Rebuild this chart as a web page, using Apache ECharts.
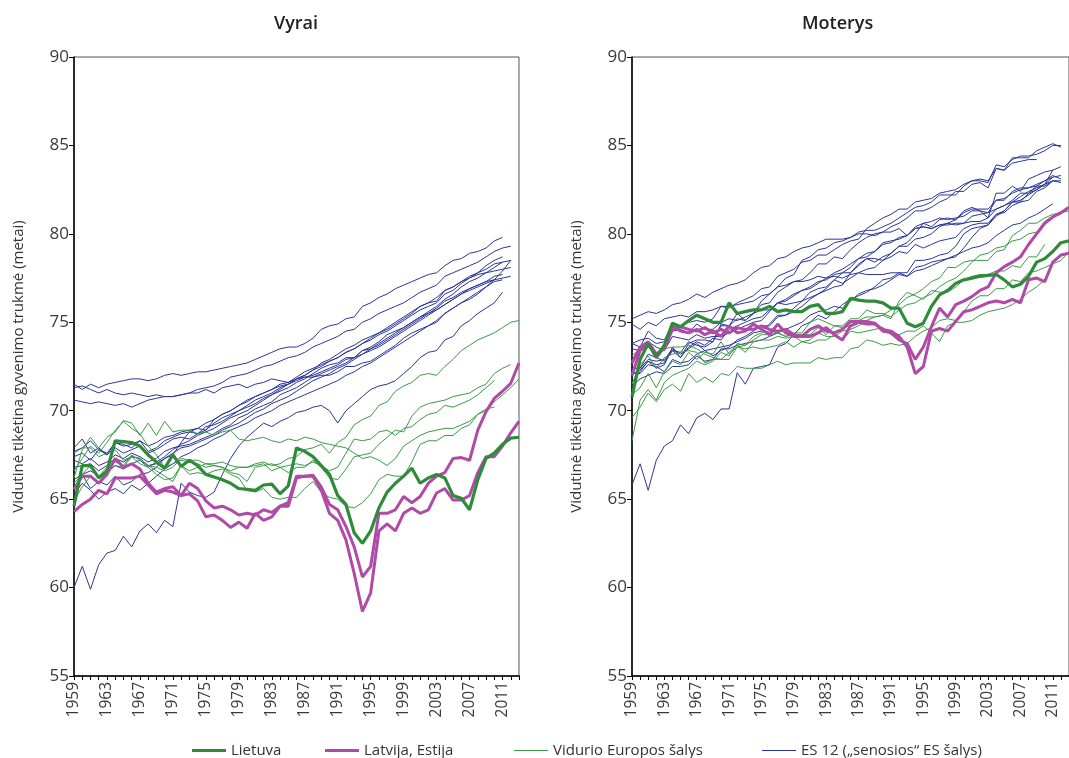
<!DOCTYPE html>
<html>
<head>
<meta charset="utf-8">
<script src="https://cdn.jsdelivr.net/npm/echarts@6/dist/echarts.min.js"></script>
<style>
  html, body { margin: 0; padding: 0; background: #fff; }
  #main { width: 1069px; height: 758px; }
</style>
</head>
<body>
<div id="main"></div>
<script>
// years on the x axis
var years = [];
for (var y = 1959; y <= 2013; y++) years.push(String(y));

// ---- Vyrai (men) ----
var ltMen = [64.6,66.9,66.9,66.2,66.6,68.3,68.25,68.2,68.0,67.5,67.1, 66.75,67.5,66.85,67.2,66.9,66.4,66.25,66.1,65.9,65.6, 65.55,65.5,65.8,65.85,65.3,65.75,67.9,67.7,67.4,66.9, 66.4,65.2,64.7,63.1,62.5,63.2,64.5,65.4,65.9,66.3, 66.75,65.9,66.2,66.4,66.2,65.2,65.05,64.4,66.1,67.3,67.6,68.1,68.45,68.5];
var lvMen = [65.55,66.3,66.3,65.9,66.4,67.3,66.8,67.0,66.7,65.9,65.4, 65.6,65.7,65.2,65.9,65.6,64.9,64.5,64.6,64.4,64.1, 64.2,64.1,64.4,64.25,64.6,64.6,66.2,66.3,66.3,65.5, 64.2,63.8,62.7,60.8,58.65,59.7,63.2,63.6,63.2,64.2, 64.5,64.2,64.4,65.35,65.6,64.95,64.95,65.2,66.5,67.4,67.4,68.0,68.75,69.4];
var eeMen = [64.3,64.7,65.0,65.5,65.3,66.2,66.2,66.2,66.3,65.8,65.3, 65.5,65.4,65.2,65.3,64.9,64.0,64.1,63.8,63.4,63.7, 63.35,64.2,63.8,64.0,64.6,64.8,66.3,66.3,66.35,65.7, 64.7,64.4,63.45,62.3,60.6,61.2,64.2,64.2,64.4,65.15, 64.8,65.15,65.9,66.3,66.5,67.3,67.35,67.2,68.9,69.95,70.7,71.1,71.55,72.7];

var ceMen = [
  [67.6,67.9,67.9,67.4,67.6,67.8,67.2,67.4,67.0,66.8,66.4, 66.1,66.2,66.9,66.6,66.8,67.0,67.0,67.1,66.9,66.8, 66.8,67.0,67.1,66.9,67.0,67.3,67.4,67.8,67.9,68.1, 67.6,68.2,68.5,69.2,69.5,69.7,70.3,70.5,71.1,71.4, 71.6,72.0,72.1,72.0,72.5,72.9,73.4,73.7,74.0,74.2,74.4,74.7,75.0,75.1],
  [66.6,67.3,68.0,67.6,68.2,68.9,69.4,69.0,68.7,68.0,67.5, 66.8,67.0,67.2,67.1,67.0,66.8,66.9,66.8,66.6,66.8, 66.8,66.9,67.0,66.6,66.8,66.9,67.0,66.9,67.1,66.9, 66.6,66.8,67.6,68.4,68.3,68.4,68.8,68.9,68.6,69.0, 69.1,69.5,69.8,69.9,70.3,70.2,70.4,70.6,70.9,71.3,71.7],
  [65.9,66.4,66.9,66.3,66.8,67.1,66.9,67.5,67.2,66.9,66.6, 66.3,66.0,66.9,66.4,66.5,66.4,66.6,66.7,66.4,66.2, 65.5,65.4,65.6,65.1,65.0,65.1,65.1,65.6,66.0,65.4, 65.1,65.0,64.6,64.5,64.8,65.3,66.1,66.4,66.3,66.3, 67.1,68.1,68.3,68.3,68.6,68.6,69.0,69.2,69.8,70.0,70.5,70.9,71.3,71.8],
  [64.9,65.7,66.3,65.9,66.6,66.9,66.8,67.4,67.3,66.9,66.8, 66.6,66.8,67.3,67.2,67.2,67.0,66.9,66.8,66.5,66.4, 66.0,66.8,66.9,67.0,66.8,66.5,66.8,66.8,67.2,66.8, 66.2,66.1,66.7,67.4,67.5,67.6,68.1,68.5,68.9,68.8, 69.7,70.2,70.4,70.5,70.6,70.8,70.9,71.0,71.3,71.5,72.1,72.4,72.6],
  [66.2,67.8,68.5,67.9,68.5,68.8,69.45,69.3,68.6,69.3,68.6, 69.4,68.8,68.9,68.9,68.7,68.8,68.6,68.8,68.9,68.4, 68.3,68.4,68.5,68.3,68.2,68.4,68.3,68.5,68.4,68.2, 68.1,68.0,67.9,67.6,67.3,67.4,67.2,66.9,67.3,68.0, 68.3,68.6,68.8,68.9,69.0,69.0,69.2,69.4,69.8,70.1,70.2]
];

var euMen = [
  [71.5,71.2,71.5,71.3,71.5,71.6,71.7,71.8,71.8,71.7,71.8, 72.0,72.1,72.0,72.1,72.2,72.2,72.3,72.4,72.5,72.6, 72.7,72.9,73.1,73.3,73.5,73.6,73.6,73.8,74.1,74.6, 74.8,74.9,75.2,75.3,75.9,76.1,76.4,76.6,76.9,77.1, 77.3,77.5,77.7,77.8,78.2,78.5,78.6,78.9,79.0,79.2,79.6,79.8],
  [71.3,71.4,71.2,71.0,71.2,71.0,70.9,71.0,70.9,70.8,70.9, 70.8,70.8,70.9,71.0,71.2,71.3,71.4,71.6,71.9,72.0, 72.1,72.3,72.5,72.6,72.8,73.0,73.1,73.3,73.6,73.8, 74.0,74.2,74.5,74.6,75.0,75.2,75.5,75.7,75.9,76.1, 76.4,76.7,76.9,77.1,77.6,77.8,78.0,78.2,78.4,78.7,79.0,79.2,79.3],
  [70.6,70.5,70.4,70.5,70.4,70.3,70.4,70.2,70.4,70.6,70.7, 70.8,70.8,70.9,71.0,71.0,71.2,71.0,71.3,71.4,71.5, 71.3,71.5,71.6,71.8,71.7,71.6,71.8,71.9,71.9,72.0, 72.0,72.2,72.5,72.5,72.7,72.8,73.1,73.4,73.7,74.1, 74.4,74.6,74.8,75.0,75.5,75.8,76.1,76.3,76.6,77.0,77.4,77.9,78.5],
  [67.9,68.4,67.6,67.9,67.5,68.2,68.0,68.1,68.3,68.0,68.2, 68.5,68.6,68.8,68.9,69.0,69.3,69.5,69.8,70.0,70.3, 70.5,70.8,71.0,71.2,71.5,71.6,71.9,72.2,72.4,72.6, 72.8,73.0,73.3,73.5,73.8,74.0,74.3,74.5,74.8,75.1, 75.4,75.7,75.9,76.1,76.6,76.8,77.2,77.5,77.8,78.2,78.5,78.7],
  [67.7,67.9,68.3,67.8,67.6,68.2,68.1,67.9,68.3,67.7,67.9, 68.3,68.5,68.7,68.8,68.7,69.1,69.2,69.4,69.7,70.0, 70.2,70.4,70.7,70.9,71.1,71.3,71.6,71.8,72.1,72.4, 72.6,72.7,73.0,73.0,73.4,73.5,73.8,74.1,74.4,74.7, 75.0,75.3,75.5,75.7,76.0,76.3,76.6,76.8,77.0,77.2,77.4,77.5,77.6],
  [67.4,67.6,67.2,67.8,67.5,67.9,67.6,67.8,68.0,67.6,67.8, 68.1,68.4,68.5,68.4,68.7,68.9,69.3,69.6,69.8,70.0, 70.3,70.6,70.8,71.0,71.3,71.5,71.8,72.0,72.3,72.7, 72.9,73.2,73.5,73.7,74.0,74.2,74.4,74.6,74.9,75.2, 75.5,75.9,76.1,76.2,76.8,77.0,77.3,77.6,77.8,78.0,78.3,78.4],
  [67.2,67.0,67.3,66.9,67.1,67.5,67.3,67.6,67.4,67.1,67.3, 67.7,67.9,68.0,68.1,68.3,68.5,68.7,69.0,69.2,69.6, 69.8,70.1,70.3,70.5,70.9,71.1,71.3,71.6,71.9,72.1, 72.3,72.5,72.7,73.0,73.2,73.5,73.7,74.0,74.3,74.6, 74.9,75.2,75.5,75.8,76.2,76.4,76.7,76.9,77.1,77.3,77.6,77.7],
  [66.8,66.9,67.0,66.6,66.9,67.3,67.1,67.4,67.3,66.9,67.0, 67.3,67.6,67.9,68.0,68.2,68.4,68.6,68.9,69.1,69.3, 69.6,69.9,70.1,70.4,70.6,70.8,71.1,71.4,71.7,71.9, 72.1,72.4,72.6,72.9,73.2,73.4,73.6,73.9,74.2,74.5, 74.8,75.1,75.4,75.7,76.0,76.3,76.6,76.9,77.1,77.3,77.4],
  [66.1,66.4,66.6,66.3,66.5,66.9,66.7,67.0,67.2,66.8,67.1, 67.4,67.8,68.1,68.3,68.6,68.8,69.0,69.3,69.6,69.8, 70.0,70.3,70.6,70.9,71.2,71.5,71.8,72.0,72.3,72.5, 72.8,73.0,73.3,73.5,73.8,74.1,74.4,74.7,75.0,75.3, 75.6,75.9,76.1,76.4,76.8,77.0,77.3,77.5,77.7,77.8,77.9,78.0,78.1],
  [65.5,66.4,65.6,66.0,65.8,66.3,65.8,66.0,66.4,66.5,66.8, 67.3,67.5,68.2,68.8,69.0,68.9,69.5,69.8,70.0,70.3, 70.6,70.8,71.0,71.2,71.4,71.5,71.7,71.9,72.0,72.2, 72.4,72.6,72.9,73.0,73.4,73.6,73.9,74.3,74.5,74.7, 75.0,75.3,75.6,75.9,76.3,76.6,77.0,77.3,77.5,77.8,78.1,78.4,78.5],
  [65.3,65.9,65.5,65.0,65.4,65.6,65.3,65.8,65.5,65.9,66.3, 66.7,67.0,67.4,67.6,67.9,68.1,68.4,68.6,68.9,69.1, 69.3,69.6,69.8,70.0,70.3,70.5,70.7,70.9,71.1,71.3, 71.5,71.7,72.0,72.2,72.5,72.7,73.0,73.3,73.6,73.9, 74.2,74.5,74.8,75.1,75.5,75.8,76.1,76.4,76.7,77.0,77.3,77.4],
  [60.0,61.2,59.9,61.3,61.95,62.1,62.9,62.3,63.2,63.6,63.1, 63.8,63.45,65.9,65.4,65.2,65.1,65.4,66.4,67.3,68.0, 68.5,68.9,69.3,69.1,69.4,69.6,69.9,70.0,70.2,70.3, 70.0,69.3,70.0,70.4,70.8,71.2,71.4,71.5,71.7,72.1, 72.5,73.0,73.3,73.4,74.0,74.2,74.8,75.1,75.5,75.8,76.1,76.7]
];

// ---- Moterys (women) ----
var ltWomen = [70.8,72.9,73.8,73.05,73.7,74.95,74.75,75.1,75.4,75.2,75.0, 75.0,76.1,75.5,75.6,75.7,75.7,75.9,75.6,75.7,75.6, 75.6,75.9,76.0,75.5,75.5,75.6,76.35,76.25,76.2,76.2, 76.1,75.8,75.8,74.95,74.75,74.95,75.9,76.55,76.8,77.2, 77.4,77.5,77.6,77.65,77.7,77.4,77.0,77.15,77.6,78.4,78.6,79.0,79.5,79.6];
var lvWomen = [72.0,73.4,73.8,73.0,73.6,74.8,74.5,74.4,74.6,74.3,74.5, 74.2,74.8,74.4,74.5,74.9,74.6,74.3,74.9,74.4,74.2, 74.2,74.2,74.4,74.7,74.3,74.0,74.8,75.0,74.9,74.9, 74.6,74.5,74.2,73.6,72.1,72.5,74.5,74.65,74.5,75.05, 75.6,75.7,75.9,76.1,76.2,76.1,76.3,76.1,77.4,77.5,77.3,78.4,78.8,78.9];
var eeWomen = [72.7,73.6,73.9,73.2,73.5,74.6,74.75,74.6,74.5,74.7,74.4, 74.6,74.4,74.7,74.6,74.6,74.8,74.6,74.5,74.6,74.3, 74.2,74.6,74.8,74.5,74.4,74.6,75.05,75.05,75.05,74.95, 74.5,74.4,74.0,73.8,72.9,73.6,74.75,75.8,75.3,76.0, 76.2,76.45,76.8,77.0,77.8,78.15,78.4,78.7,79.4,80.0,80.6,80.95,81.2,81.5];

var ceWomen = [
  [73.1,73.5,73.6,73.2,73.5,73.6,73.6,73.7,73.5,73.2,73.0, 72.9,73.3,73.7,73.3,73.9,74.0,74.0,74.2,74.1,74.2, 73.9,74.0,74.4,74.2,74.2,74.5,74.6,74.8,75.1,75.3, 75.4,75.7,76.0,76.4,76.6,76.9,77.3,77.5,78.1,78.1, 78.4,78.5,78.5,78.5,79.0,79.1,79.9,80.2,80.6,80.6,80.9,81.1,81.2,81.3],
  [71.5,72.6,73.1,72.4,73.0,73.2,73.3,73.4,73.3,72.7,72.9, 72.9,72.9,73.6,73.7,74.0,74.3,74.3,74.4,74.2,74.3, 74.3,74.3,74.7,74.3,74.8,74.7,74.8,75.1,75.3,75.3, 75.4,75.2,76.2,76.7,76.5,76.3,76.8,76.7,76.7,77.0, 77.4,77.6,77.7,77.7,77.9,77.9,78.2,78.1,78.7,78.7,79.4],
  [69.6,70.2,71.0,70.5,71.2,71.5,71.1,72.1,71.6,71.9,71.6, 72.1,72.0,72.5,72.4,72.4,72.4,72.6,72.8,72.6,72.7, 72.7,72.7,73.0,72.9,73.0,73.0,73.5,73.6,74.0,73.9, 73.7,73.8,73.7,73.8,74.2,74.5,74.7,75.1,75.2,75.1, 75.6,76.2,76.5,76.5,76.9,76.9,77.4,77.3,77.8,77.9,78.1,78.3,78.5,79.0],
  [68.3,70.6,71.2,70.6,71.6,72.0,72.2,72.4,72.8,72.6,72.8, 73.3,73.1,73.8,73.7,74.2,74.4,74.5,74.4,74.2,74.4, 74.4,75.0,75.2,75.0,74.8,74.8,75.2,75.2,75.7,75.5, 75.5,75.3,75.7,76.0,76.1,76.4,76.6,77.0,77.3,77.5, 77.9,78.4,78.8,78.9,79.2,79.3,79.6,79.7,80.0,80.1,80.7,81.0,81.1],
  [70.9,71.3,72.1,71.3,72.2,72.8,72.6,73.3,72.9,73.3,73.2, 73.9,73.2,73.6,73.5,73.6,73.5,73.6,73.7,73.9,73.6, 73.9,73.8,74.0,74.0,74.3,74.0,74.5,74.4,74.5,74.6, 74.7,74.3,74.3,74.5,74.5,74.8,74.4,73.9,74.8,75.0, 75.0,75.1,75.4,75.6,75.7,75.8,76.0,76.3,76.7,77.0,77.4]
];

var euWomen = [
  [73.8,73.6,74.5,74.1,74.0,74.9,74.8,75.0,75.1,75.0,75.2, 75.9,75.8,76.1,76.3,76.5,76.9,77.0,77.6,77.8,78.0, 78.4,78.5,78.8,78.8,79.1,79.4,79.6,79.7,80.3,80.6, 80.9,81.1,81.4,81.4,81.8,81.9,82.0,82.3,82.4,82.5, 82.8,83.0,83.0,82.9,83.9,83.8,84.2,84.4,84.4,84.5,84.7,85.0,85.0],
  [71.6,72.2,72.8,72.4,72.6,73.6,73.0,73.8,74.0,74.0,73.9, 74.8,74.8,75.5,75.1,75.5,76.2,76.6,77.0,77.5,77.7, 78.5,78.7,79.1,79.2,79.5,79.6,79.8,80.1,80.2,80.2, 80.4,80.6,80.9,81.2,81.5,81.6,81.8,82.2,82.2,82.2, 82.7,83.0,83.1,83.0,83.7,83.6,84.3,84.3,84.3,84.7,84.9,85.1,84.9],
  [72.0,72.3,72.8,72.6,72.7,73.4,73.3,73.9,73.7,73.6,73.9, 74.9,74.8,75.2,75.1,75.5,76.0,76.1,76.7,77.0,77.3, 77.4,77.8,78.3,78.3,78.7,78.6,79.1,79.5,79.8,80.0, 80.1,80.4,80.6,80.9,81.3,81.3,81.5,81.8,82.0,82.4, 82.4,82.8,82.9,82.6,83.7,83.6,84.0,84.1,84.2,84.2],
  [73.8,74.0,74.1,73.8,73.9,74.5,74.6,74.4,74.9,74.6,74.6, 75.0,75.2,75.1,75.3,75.5,75.7,75.7,76.1,76.0,76.1, 76.2,76.7,76.9,77.0,77.4,77.2,77.5,77.8,78.0,78.1, 78.5,78.7,79.0,78.9,79.4,79.2,79.4,79.6,79.7,79.8, 80.3,80.5,80.6,80.6,81.1,81.2,81.6,81.8,81.9,82.4,82.6,83.0,82.9],
  [73.5,73.4,73.9,73.6,73.4,74.2,74.1,74.0,74.3,74.1,74.2, 74.2,74.4,74.6,74.8,75.0,75.1,75.6,76.1,76.2,76.5, 76.8,77.0,77.3,77.4,77.7,77.8,78.1,78.6,78.9,79.0, 79.5,79.6,79.7,79.9,80.4,80.6,80.7,80.9,80.8,80.9, 81.0,81.3,81.3,81.2,81.9,81.9,82.4,82.6,82.6,82.8,83.0,83.3,83.1],
  [72.4,72.4,72.9,72.8,72.9,73.5,73.2,73.5,73.8,73.4,73.5, 73.6,73.7,73.9,74.1,74.4,74.5,74.9,75.4,75.4,75.8, 76.2,76.4,76.6,76.9,77.4,77.8,77.8,78.3,78.6,78.6, 78.5,78.9,79.3,79.3,79.7,79.8,80.0,80.4,80.6,80.8, 81.2,81.4,81.4,81.4,81.9,82.0,82.3,82.5,82.6,82.7,83.0,83.2,83.3],
  [72.2,72.1,72.6,72.5,72.2,72.9,72.7,72.8,73.2,73.4,73.1, 73.4,73.6,74.0,74.2,74.5,74.8,74.8,75.3,75.4,75.6, 75.9,76.3,76.6,76.8,77.0,77.1,77.8,78.2,78.6,78.4, 78.7,78.9,79.3,79.5,80.0,80.6,80.4,80.8,80.9,80.8, 81.3,81.5,81.3,80.9,82.3,82.3,82.7,82.4,83.1,83.3,83.5,83.6,83.8],
  [72.4,72.4,73.2,73.0,72.8,73.4,73.0,73.6,73.9,73.7,74.1, 74.0,74.6,74.8,75.0,75.2,75.3,75.7,76.1,76.3,76.6, 76.8,76.9,77.2,77.5,77.8,78.0,78.3,78.6,78.7,79.0, 79.4,79.5,79.8,79.9,80.3,80.4,80.3,80.5,80.5,80.6, 80.6,81.0,81.1,81.2,81.4,81.6,81.8,81.8,82.3,82.5,82.8,83.6],
  [71.4,71.8,72.0,72.2,72.1,72.5,72.5,72.6,73.1,72.8,72.9, 73.5,73.5,73.7,73.8,73.9,74.0,74.2,74.4,74.6,74.8, 75.0,75.4,75.6,75.7,75.9,75.8,76.2,76.6,76.8,76.9, 77.1,77.4,77.7,77.6,78.1,78.2,78.4,78.5,78.6,78.7, 79.2,79.8,80.3,80.5,81.0,81.3,81.8,82.1,82.4,82.6,82.8,83.0],
  [74.9,74.6,75.0,74.8,75.2,75.3,75.4,75.3,75.6,75.6,75.7, 75.9,75.9,76.0,76.1,76.2,76.5,76.6,77.0,77.1,77.3, 77.3,77.4,77.6,77.5,77.6,77.5,77.7,77.8,77.7,77.7, 77.7,77.8,77.8,77.6,77.9,78.0,78.2,78.4,78.6,78.8, 79.0,79.2,79.3,79.5,79.9,80.2,80.5,80.6,80.9,81.1,81.4,81.7],
  [75.2,75.4,75.6,75.5,75.7,76.0,76.1,76.3,76.6,76.4,76.7, 76.9,77.1,77.2,77.4,77.8,78.1,78.2,78.6,78.7,79.0, 79.2,79.3,79.5,79.7,79.7,79.7,79.8,80.0,80.0,79.9, 80.1,80.1,80.3,79.9,80.3,80.4,80.3,80.5,80.6,80.5, 80.6,80.7,80.7,80.9,81.4,81.6,81.9,82.3,82.3,82.7,82.7,83.0,83.0],
  [65.8,67.0,65.5,67.2,68.0,68.3,69.2,68.7,69.6,69.85,69.5, 70.1,70.1,72.15,71.5,72.4,72.5,72.6,73.6,73.8,74.3, 74.8,75.0,75.4,75.2,75.6,76.0,76.3,76.5,76.7,77.0, 77.4,77.5,77.8,77.8,78.5,78.5,78.6,78.8,78.9,79.3, 80.0,80.3,80.4,80.5,81.1,81.3,81.8,81.9,82.2,82.5,82.8,83.2]
];

var NAME_LT = 'Lietuva';
var NAME_LV = 'Latvija, Estija';
var NAME_CE = 'Vidurio Europos šalys';
var NAME_EU = 'ES 12 („senosios“ ES šalys)';

var BLUE = '#2b3597';
var GREEN_THIN = '#3a9a46';
var GREEN = '#2e8b3a';
var MAGENTA = '#b04aa6';
var FONT = 'Open Sans';

function line(name, data, idx, color, width, z) {
  return {
    type: 'line', name: name, data: data,
    xAxisIndex: idx, yAxisIndex: idx,
    symbol: 'none', smooth: false, z: z,
    lineStyle: { color: color, width: width },
    itemStyle: { color: color },
    emphasis: { disabled: true }
  };
}

var series = [];
[[euMen, ceMen, lvMen, eeMen, ltMen], [euWomen, ceWomen, lvWomen, eeWomen, ltWomen]].forEach(function (p, i) {
  p[0].forEach(function (d) { series.push(line(NAME_EU, d, i, BLUE, 1, 2)); });
  p[1].forEach(function (d) { series.push(line(NAME_CE, d, i, GREEN_THIN, 1, 3)); });
  series.push(line(NAME_LV, p[2], i, MAGENTA, 3, 4));
  series.push(line(NAME_LV, p[3], i, MAGENTA, 3, 4));
  series.push(line(NAME_LT, p[4], i, GREEN, 3.2, 5));
});

function xAx(idx) {
  return {
    type: 'category', gridIndex: idx, data: years, boundaryGap: false,
    axisLine: { lineStyle: { color: '#000', width: 1.5 } },
    axisTick: { show: true, interval: 0, length: 4, lineStyle: { color: '#000' } },
    axisLabel: { interval: 3, rotate: 90, margin: 6, fontSize: 15.5, color: '#3a3a3a', fontFamily: FONT },
    splitLine: { show: false }
  };
}
function yAx(idx) {
  return {
    type: 'value', gridIndex: idx, min: 55, max: 90, interval: 5,
    name: 'Vidutinė tikėtina gyvenimo trukmė (metai)',
    nameLocation: 'middle', nameGap: 48,
    nameTextStyle: { fontSize: 15, color: '#333', fontFamily: FONT },
    axisLine: { show: true, lineStyle: { color: '#000', width: 1.5 } },
    axisTick: { show: true, length: 5, lineStyle: { color: '#000' } },
    axisLabel: { fontSize: 17, color: '#3a3a3a', margin: 5, fontFamily: FONT },
    splitLine: { show: false }
  };
}

function leg(name, icon, left) {
  return {
    data: [{ name: name, icon: icon }],
    left: left, top: 738, itemWidth: 34, itemHeight: 12, itemGap: 0,
    symbolKeepAspect: true, selectedMode: false,
    textStyle: { fontSize: 15, color: '#333', fontFamily: FONT }
  };
}
var THICK = 'path://M0,0H40V3.6H0Z';
var THIN = 'path://M0,0H40V1.3H0Z';

var chart = echarts.init(document.getElementById('main'));
chart.setOption({
  animation: false,
  backgroundColor: '#fff',
  grid: [
    { left: 74, top: 57, width: 445, height: 619, show: true, borderColor: '#555', borderWidth: 1 },
    { left: 632, top: 57, width: 445, height: 619, show: true, borderColor: '#555', borderWidth: 1 }
  ],
  xAxis: [xAx(0), xAx(1)],
  yAxis: [yAx(0), yAx(1)],
  legend: [
    leg(NAME_LT, THICK, 187),
    leg(NAME_LV, THICK, 320),
    leg(NAME_CE, THIN, 509),
    leg(NAME_EU, THIN, 757)
  ],
  graphic: [
    { type: 'text', left: 274, top: 15, style: { text: 'Vyrai', font: '600 18px "Open Sans"', fill: '#222' } },
    { type: 'text', left: 802, top: 15, style: { text: 'Moterys', font: '600 18px "Open Sans"', fill: '#222' } }
  ],
  series: series
});
</script>
</body>
</html>
